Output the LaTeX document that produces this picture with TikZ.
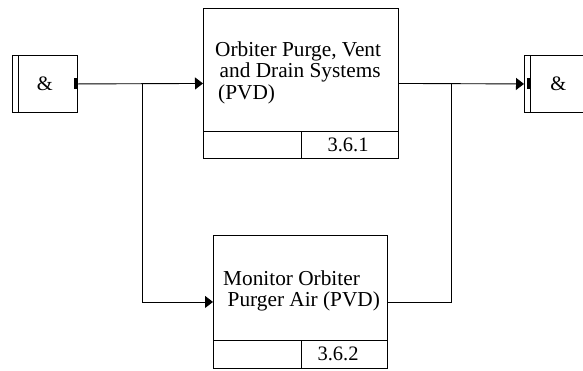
\documentclass[tikz,border=0pt]{standalone}
\usepackage{fontspec}
\setmainfont{Liberation Serif}
\usetikzlibrary{arrows.meta, positioning, calc}

\begin{document}
\begin{tikzpicture}[
  x=1pt, y=-1pt,
  blk/.style={draw, line width=0.9pt, inner sep=0pt, anchor=north west},
  cell/.style={font=\fontsize{20.5}{21.5}\selectfont, inner sep=0pt},
  txt/.style={font=\fontsize{21.3}{21.5}\selectfont, align=left, inner sep=0pt, anchor=north west},
  arr/.style={-{Triangle[length=8pt, width=12pt]}, line width=0.9pt},
  wire/.style={line width=0.9pt}
]
\useasboundingbox (0,0) rectangle (583,370);
\clip (0,0) rectangle (583,370);

% Junction boxes
\node[blk, minimum width=65pt, minimum height=57pt] (andL) at (12,55) {};
\draw[wire] ($(andL.north west)+(6,0)$) -- ($(andL.south west)+(6,0)$);
\fill ($(andL.east)+(-4,-5.5)$) rectangle ($(andL.east)+(0,5.5)$);
\node[cell] (andLtxt) at (andL.center) {\&};

\node[blk, minimum width=66pt, minimum height=57pt] (andR) at (524,55) {};
\draw[wire] ($(andR.north west)+(6,0)$) -- ($(andR.south west)+(6,0)$);
\fill ($(andR.west)+(3,-5.5)$) rectangle ($(andR.west)+(6,5.5)$);
\node[cell] (andRtxt) at ($(andR.center)+(1,0)$) {\&};

% Function 3.6.1
\node[blk, minimum width=195pt, minimum height=150pt] (pvd) at (203,8) {};
\draw[wire] ($(pvd.south west)+(0,-27)$) -- ($(pvd.south east)+(0,-27)$);
\draw[wire] ($(pvd.south west)+(98,0)$) -- ($(pvd.south west)+(98,-27)$);
\node[txt] (pvdtxt) at (215,41.2) {Orbiter Purge, Vent\\\hspace*{4.5pt}and Drain Systems\\\hspace*{3pt}(PVD)};
\node[cell] (pvdnum) at (348,145) {3.6.1};

% Function 3.6.2
\node[blk, minimum width=174pt, minimum height=133pt] (mon) at (213,235) {};
\draw[wire] ($(mon.south west)+(0,-28)$) -- ($(mon.south east)+(0,-28)$);
\draw[wire] ($(mon.south west)+(88,0)$) -- ($(mon.south west)+(88,-28)$);
\node[txt] (montxt) at (223,270.5) {Monitor Orbiter\\\hspace*{4.5pt}Purger Air (PVD)};
\node[cell] (monnum) at (338,354) {3.6.2};

% Connectors
\coordinate (splitL) at (142,83);
\coordinate (splitR) at (451,83);
\draw[arr] (andL.east) -- (pvd.west);
\draw[arr] (splitL) |- (mon.west);
\draw[arr] (pvd.east) -- (andR.west);
\draw[wire] (mon.east) -| (splitR);
\end{tikzpicture}
\end{document}
